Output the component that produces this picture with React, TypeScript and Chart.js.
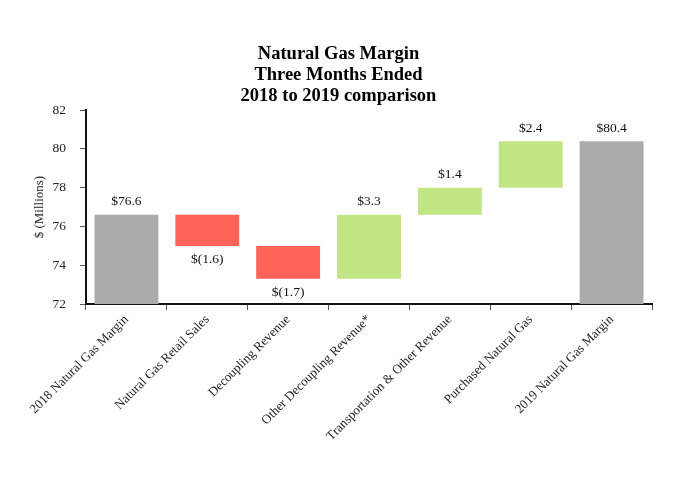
import React, { useEffect, useRef } from "react";
import { Chart, registerables } from "chart.js";

Chart.register(...registerables);

const categories = [
  "2018 Natural Gas Margin",
  "Natural Gas Retail Sales",
  "Decoupling Revenue",
  "Other Decoupling Revenue*",
  "Transportation & Other Revenue",
  "Purchased Natural Gas",
  "2019 Natural Gas Margin",
];
// first and last are totals, others are changes
const values = [76.6, -1.6, -1.7, 3.3, 1.4, 2.4, 80.4];
const isTotal = [true, false, false, false, false, false, true];
const valueLabels = ["$76.6", "$(1.6)", "$(1.7)", "$3.3", "$1.4", "$2.4", "$80.4"];
const titleLines = ["Natural Gas Margin", "Three Months Ended", "2018 to 2019 comparison"];
const yMin = 72;
const yMax = 82;

const GRAY = "#ABABAB";
const RED = "#FF6257";
const GREEN = "#C1E585";

function buildRanges(): [number, number][] {
  const out: [number, number][] = [];
  let running = 0;
  values.forEach((v, i) => {
    if (isTotal[i]) {
      out.push([yMin, v]);
      running = v;
    } else {
      const start = running;
      running = Math.round((running + v) * 10) / 10;
      out.push([start, running]);
    }
  });
  return out;
}

const labelPlugin = {
  id: "wfLabels",
  afterDatasetsDraw(chart: any) {
    const { ctx } = chart;
    const meta = chart.getDatasetMeta(0);
    const ranges = chart.data.datasets[0].data as [number, number][];
    const y = chart.scales.y;
    ctx.save();
    ctx.font = "13.5px 'Liberation Serif'";
    ctx.fillStyle = "#111";
    ctx.textAlign = "center";
    ctx.textBaseline = "middle";
    meta.data.forEach((bar: any, i: number) => {
      const [a, b] = ranges[i];
      const neg = !isTotal[i] && values[i] < 0;
      if (neg) {
        const py = y.getPixelForValue(Math.min(a, b));
        ctx.fillText(valueLabels[i], bar.x, py + 14);
      } else {
        const py = y.getPixelForValue(Math.max(a, b));
        ctx.fillText(valueLabels[i], bar.x, py - 13);
      }
    });
    ctx.restore();
  },
};

export default function App() {
  const ref = useRef<HTMLCanvasElement>(null);
  useEffect(() => {
    if (!ref.current) return;
    const colors = values.map((v, i) => (isTotal[i] ? GRAY : v < 0 ? RED : GREEN));
    const chart = new Chart(ref.current, {
      type: "bar",
      data: {
        labels: categories,
        datasets: [
          {
            data: buildRanges() as any,
            backgroundColor: colors,
            borderWidth: 0,
            borderSkipped: false,
            barPercentage: 0.79,
            categoryPercentage: 1,
          },
        ],
      },
      options: {
        animation: false,
        responsive: true,
        maintainAspectRatio: false,
        layout: { padding: { left: 25, right: 30, top: 44, bottom: 34 } },
        plugins: {
          legend: { display: false },
          tooltip: { enabled: false },
          title: {
            display: true,
            text: titleLines,
            color: "#000",
            font: { family: "'Liberation Serif'", size: 18.5, weight: "bold", lineHeight: 1.12 },
            padding: { top: 0, bottom: 4 },
          },
        },
        scales: {
          x: {
            afterFit: (scale: any) => {
              scale.paddingLeft = 0;
              scale.paddingRight = 0;
            },
            grid: { display: true, drawOnChartArea: false, drawTicks: true, tickLength: 6, color: "#555" },
            border: { display: true, color: "#111", width: 2 },
            ticks: {
              color: "#222",
              font: { family: "'Liberation Serif'", size: 13 },
              maxRotation: 45,
              minRotation: 45,
              autoSkip: false,
              padding: 2,
            },
          },
          y: {
            min: yMin,
            max: yMax,
            afterFit: (scale: any) => {
              scale.width = 61;
            },
            grid: { display: true, drawOnChartArea: false, drawTicks: true, tickLength: 6, color: "#555" },
            border: { display: true, color: "#111", width: 2 },
            ticks: {
              stepSize: 2,
              color: "#222",
              font: { family: "'Liberation Serif'", size: 13.5 },
              padding: 14,
            },
            title: {
              display: true,
              text: "$ (Millions)",
              color: "#222",
              font: { family: "'Liberation Serif'", size: 13 },
              padding: { top: 7, bottom: 0 },
            },
          },
        },
      },
      plugins: [labelPlugin],
    });
    return () => chart.destroy();
  }, []);
  return (
    <div style={{ position: "fixed", left: 0, top: 0, width: 682, height: 480, background: "#fff" }}>
      <canvas ref={ref} />
    </div>
  );
}
